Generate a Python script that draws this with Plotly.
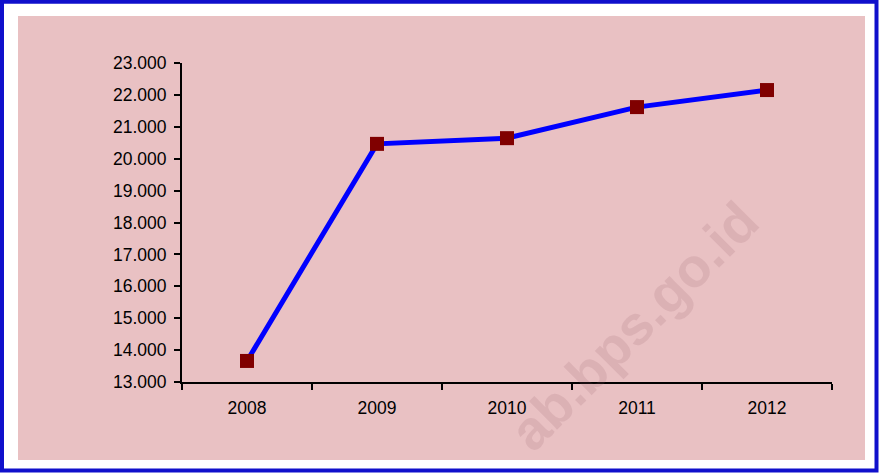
import plotly.graph_objects as go

years = ["2008", "2009", "2010", "2011", "2012"]
values = [13660, 20465, 20644, 21618, 22152]
y_ticks = [13000, 14000, 15000, 16000, 17000, 18000, 19000, 20000, 21000, 22000, 23000]

W, H = 879, 473
L, R, T, B = 182, 47, 63, 91
pw, ph = W - L - R, H - T - B

def px(x):
    return (x - L) / pw

def py(y):
    return (H - B - y) / ph

fig = go.Figure()
fig.add_trace(go.Scatter(
    x=years, y=values, mode="lines+markers",
    line=dict(color="#0000FF", width=5),
    marker=dict(symbol="square", size=14, color="#800000",
                line=dict(color="#800000", width=0)),
    showlegend=False, hoverinfo="skip"))

font = dict(family="Liberation Sans, Arial, sans-serif", size=17.5, color="#000000")

fig.update_layout(
    width=W, height=H,
    margin=dict(l=L, r=R, t=T, b=B),
    paper_bgcolor="#FFFFFF",
    plot_bgcolor="rgba(0,0,0,0)",
    separators=",.",
    font=font,
    xaxis=dict(type="category", range=[-0.5, 4.5], showline=True, linecolor="#000000",
               linewidth=2, ticks="outside", ticklen=6, tickwidth=2, tickcolor="#000000",
               tickson="boundaries", showgrid=False, zeroline=False, tickfont=font,
               ticklabelstandoff=9, fixedrange=True),
    yaxis=dict(range=[13000, 23000], tickvals=y_ticks, tickformat=",d", showline=True,
               linecolor="#000000", linewidth=2, ticks="outside", ticklen=6, tickwidth=2,
               tickcolor="#000000", showgrid=False, zeroline=False, tickfont=font,
               ticklabelstandoff=4, fixedrange=True),
    shapes=[
        dict(type="rect", xref="paper", yref="paper", layer="below",
             x0=px(18), x1=px(865), y0=py(460), y1=py(16),
             fillcolor="#E9C1C3", line=dict(width=0)),
        dict(type="rect", xref="paper", yref="paper", layer="below",
             x0=px(2), x1=px(876.5), y0=py(470.5), y1=py(1.8),
             fillcolor="rgba(0,0,0,0)", line=dict(color="#1010CC", width=4)),
    ],
    annotations=[
        dict(text="<b>ab.bps.go.id</b>", xref="paper", yref="paper",
             x=px(634), y=py(326), xanchor="center", yanchor="middle",
             showarrow=False, textangle=-45,
             font=dict(family="Liberation Sans, Arial, sans-serif", size=55,
                       color="rgba(150,95,105,0.16)")),
    ],
)

fig.write_html("out.html", config={"displayModeBar": False},
               post_script="document.body.style.margin='0';document.body.style.overflow='hidden';")
